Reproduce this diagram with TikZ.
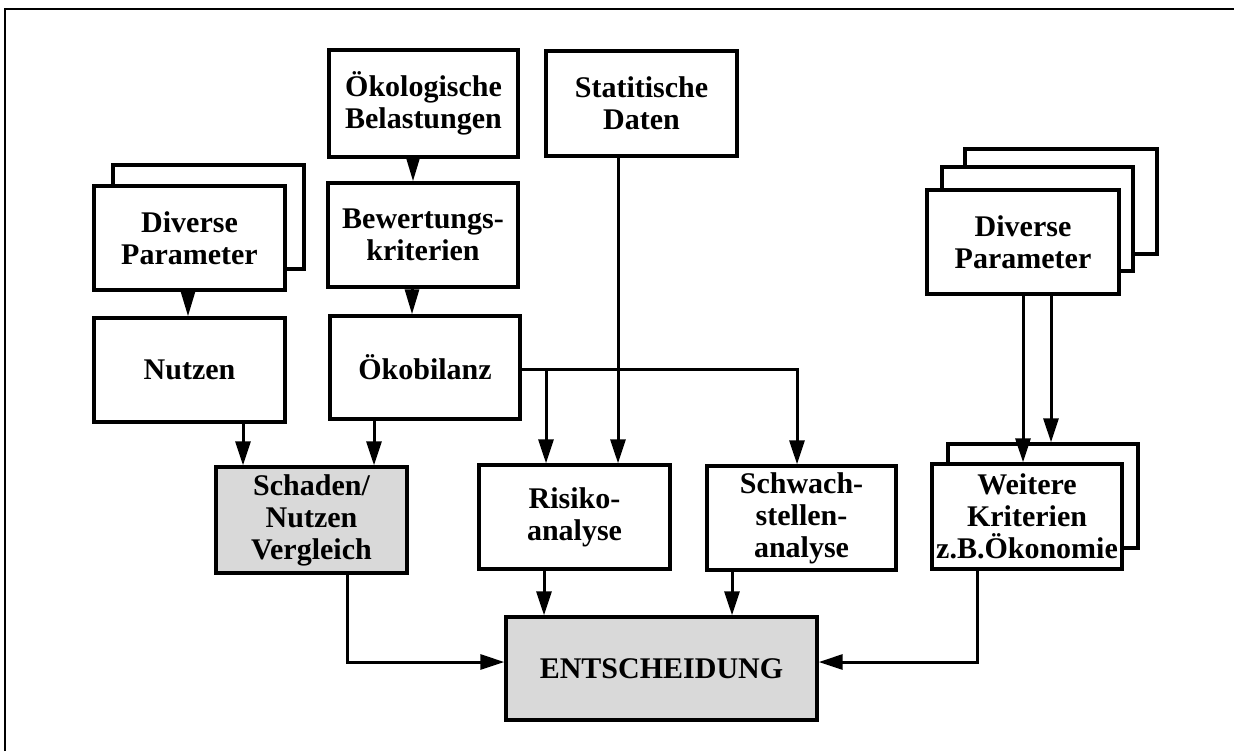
\documentclass[tikz,border=0pt]{standalone}
\usepackage{fontspec}
\setmainfont{Liberation Serif}
\usetikzlibrary{arrows.meta}
\begin{document}
\begin{tikzpicture}[x=0.5pt,y=-0.5pt,
    kasten/.style={draw,line width=1.7pt,fill=white,inner sep=0pt,align=center,
      font=\bfseries\fontsize{15}{16}\selectfont},
    grau/.style={kasten,fill=gray!30},
    pfeil/.style={line width=1.5pt,-{Triangle[length=12pt,width=7.5pt]}},
    spitze/.style={line width=1.5pt,-{Triangle[length=12.5pt,width=7pt]}}]
  \useasboundingbox (0,0) rectangle (1234,751);
  \draw[line width=1.3pt] (5,751) -- (5,9) -- (1234,9);
  % Kaesten
  \node[kasten,minimum width=95.5pt,minimum height=52pt] (divLb) at (208.5,217) {};
  \node[kasten,minimum width=95.5pt,minimum height=52pt] (divL) at (189.5,238) {Diverse\\Parameter};
  \node[kasten,minimum width=95.5pt,minimum height=52pt] (nutzen) at (189.5,370) {Nutzen};
  \node[kasten,minimum width=94.5pt,minimum height=53.5pt] (oekol) at (423.5,103.5) {Ökologische\\Belastungen};
  \node[kasten,minimum width=95pt,minimum height=52pt] (bewert) at (423,235) {Bewertungs-\\kriterien};
  \node[kasten,minimum width=95pt,minimum height=51.5pt] (oekobil) at (425,367.5) {Ökobilanz};
  \node[kasten,minimum width=95.5pt,minimum height=52.5pt] (stat) at (641.5,103.5) {Statitische\\Daten};
  \node[kasten,minimum width=96pt,minimum height=52.5pt] (divRc) at (1061,201.5) {};
  \node[kasten,minimum width=95.5pt,minimum height=52pt] (divRb) at (1037.5,219) {};
  \node[kasten,minimum width=96pt,minimum height=52pt] (divR) at (1023,242) {Diverse\\Parameter};
  \node[grau,minimum width=95.5pt,minimum height=53pt] (schaden) at (311.5,520) {Schaden/\\Nutzen\\Vergleich};
  \node[kasten,minimum width=95.5pt,minimum height=52pt] (risiko) at (574.5,517) {Risiko-\\analyse};
  \node[kasten,minimum width=94.5pt,minimum height=52pt] (schwach) at (801.5,518) {Schwach-\\stellen-\\analyse};
  \node[kasten,minimum width=95pt,minimum height=52pt] (weitereb) at (1043,496) {};
  \node[kasten,minimum width=95pt,minimum height=52.5pt] (weitere) at (1027,516.5) {Weitere\\Kriterien\\z.B.Ökonomie};
  \node[grau,minimum width=155.5pt,minimum height=51.5pt] (entsch) at (661.5,668.5) {ENTSCHEIDUNG};
  % Pfeile
  \draw[spitze] (divL.south -| 188,0) -- (nutzen.north -| 188,0);
  \draw[spitze] (oekol.south -| 413,0) -- (bewert.north -| 413,0);
  \draw[spitze] (bewert.south -| 412,0) -- (oekobil.north -| 412,0);
  \draw[pfeil] (nutzen.south -| 243,0) -- (schaden.north -| 243,0);
  \draw[pfeil] (oekobil.south -| 374,0) -- (schaden.north -| 374,0);
  \draw[pfeil] (oekobil.east |- 0,369) -| (schwach.north -| 797,0);
  \draw[pfeil] (546,369) -- (risiko.north -| 546,0);
  \draw[pfeil] (stat.south -| 618,0) -- (risiko.north -| 618,0);
  \draw[pfeil] (divR.south -| 1023,0) -- (weitere.north -| 1023,0);
  \draw[pfeil] (divR.south -| 1051,0) -- (weitereb.north -| 1051,0);
  \draw[pfeil] (risiko.south -| 544,0) -- (entsch.north -| 544,0);
  \draw[pfeil] (schwach.south -| 732,0) -- (entsch.north -| 732,0);
  \draw[pfeil] (schaden.south -| 347,0) |- (entsch.west |- 0,662);
  \draw[pfeil] (weitere.south -| 977,0) |- (entsch.east |- 0,662);
\end{tikzpicture}
\end{document}
